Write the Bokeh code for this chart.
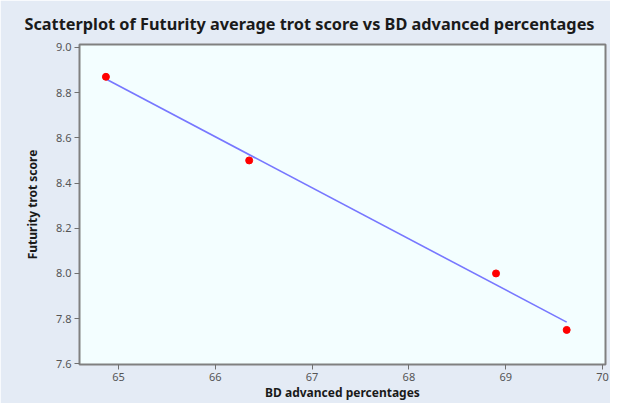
import numpy as np
from bokeh.plotting import figure
from bokeh.models import FixedTicker, Range1d, ColumnDataSource
from bokeh.embed import file_html
from bokeh.resources import INLINE

# data
bd_advanced_pct = [64.87, 66.35, 68.90, 69.63]
futurity_trot_score = [8.87, 8.50, 8.00, 7.75]
x_ticks = [65, 66, 67, 68, 69, 70]
y_ticks = [7.6, 7.8, 8.0, 8.2, 8.4, 8.6, 8.8, 9.0]

# least-squares fit line through the points
slope, intercept = np.polyfit(bd_advanced_pct, futurity_trot_score, 1)
fit_x = [min(bd_advanced_pct), max(bd_advanced_pct)]
fit_y = [slope * v + intercept for v in fit_x]

BG = "#e4ebf5"
FONT = "Noto Sans"

p = figure(width=610, height=403, output_backend="svg", toolbar_location=None,
           x_range=Range1d(64.597, 70.031), y_range=Range1d(7.597, 9.013),
           min_border_left=79, min_border_right=5, min_border_top=44, min_border_bottom=39,
           background_fill_color="#f3feff", border_fill_color=BG)

p.title.text = "Scatterplot of Futurity average trot score vs BD advanced percentages"
p.title.align = "left"
p.title.offset = -55
p.title.standoff = 20
p.title.text_font = FONT
p.title.text_font_size = "16.3px"
p.title.text_font_style = "bold"
p.title.text_color = "#1a1a1a"

p.outline_line_color = "#808080"
p.outline_line_width = 2
p.grid.visible = False

for ax in (p.xaxis[0], p.yaxis[0]):
    ax.axis_line_color = None
    ax.major_tick_line_color = "#707070"
    ax.major_tick_in = 0
    ax.major_tick_out = 5
    ax.minor_tick_line_color = None
    ax.major_label_text_font = FONT
    ax.major_label_text_font_size = "11px"
    ax.major_label_text_color = "#555555"
    ax.axis_label_text_font = FONT
    ax.axis_label_text_font_size = "12px"
    ax.axis_label_text_font_style = "bold"
    ax.axis_label_text_color = "#1a1a1a"

p.xaxis.ticker = FixedTicker(ticks=x_ticks)
p.yaxis.ticker = FixedTicker(ticks=y_ticks)
p.yaxis.major_label_overrides = {v: f"{v:.1f}" for v in y_ticks}
p.xaxis.axis_label = "BD advanced percentages"
p.yaxis.axis_label = "Futurity trot score"
p.xaxis.major_label_standoff = 3
p.xaxis.axis_label_standoff = 0
p.yaxis.major_label_standoff = 3
p.yaxis.axis_label_standoff = 12

p.line(fit_x, fit_y, line_color="#7777ff", line_width=1.6)
src = ColumnDataSource(dict(x=bd_advanced_pct, y=futurity_trot_score))
p.scatter("x", "y", source=src, size=7, fill_color="#ff0000", line_color="#ff0000")

open("out.html", "w").write(file_html(p, INLINE))
